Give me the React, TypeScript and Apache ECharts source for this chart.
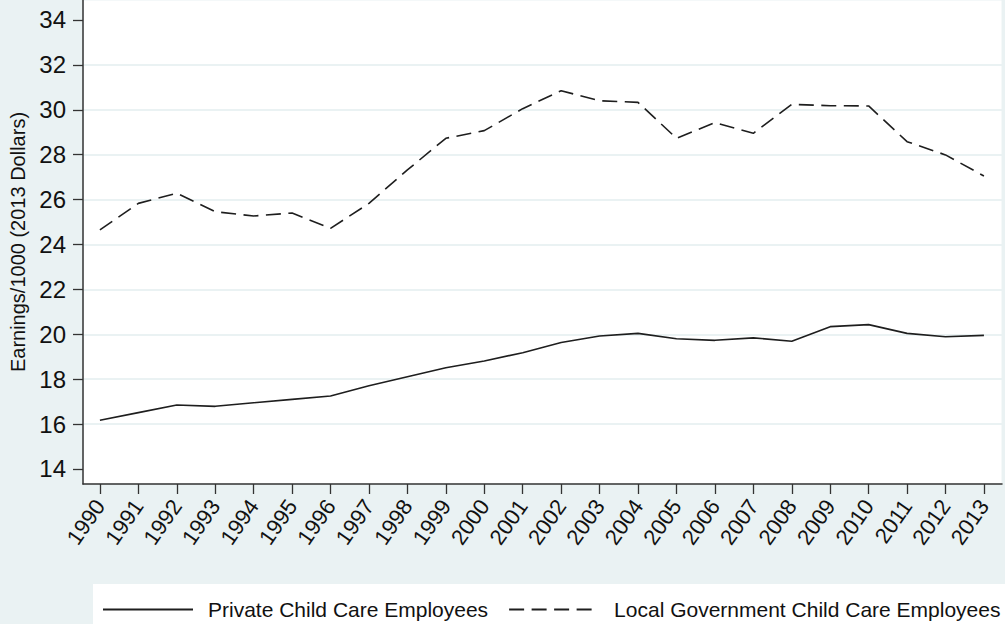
import React, { useEffect, useRef } from "react";
import * as echarts from "echarts";

const years = [1990, 1991, 1992, 1993, 1994, 1995, 1996, 1997, 1998, 1999, 2000, 2001, 2002, 2003, 2004, 2005, 2006, 2007, 2008, 2009, 2010, 2011, 2012, 2013];
const privateEarnings = [16.17, 16.51, 16.85, 16.79, 16.95, 17.1, 17.25, 17.71, 18.11, 18.51, 18.81, 19.18, 19.63, 19.92, 20.04, 19.8, 19.73, 19.84, 19.69, 20.34, 20.43, 20.04, 19.89, 19.95];
const localGovEarnings = [24.65, 25.83, 26.28, 25.46, 25.27, 25.4, 24.72, 25.83, 27.32, 28.73, 29.07, 30.05, 30.85, 30.4, 30.33, 28.73, 29.43, 28.95, 30.24, 30.18, 30.17, 28.58, 27.99, 27.05];
const yTickValues = [14, 16, 18, 20, 22, 24, 26, 28, 30, 32, 34];
const yGridValues = [16, 18, 20, 22, 24, 26, 28, 30, 32];
const seriesNames = ["Private Child Care Employees", "Local Government Child Care Employees"];
const yAxisTitle = "Earnings/1000 (2013 Dollars)";

const FONT = "'Liberation Sans', Arial, Helvetica, sans-serif";
const BG = "#eaf2f3";
const INK = "#1e1e1e";

export default function App() {
  const ref = useRef<HTMLDivElement>(null);
  useEffect(() => {
    document.body.style.margin = "0";
    if (!ref.current) return;
    const chart = echarts.init(ref.current, undefined, { renderer: "svg" });
    const yMin = 13.33;
    const yMax = 34.89;
    chart.setOption({
      animation: false,
      backgroundColor: BG,
      textStyle: { fontFamily: FONT },
      grid: {
        left: 83,
        right: 3,
        top: 0,
        bottom: 140,
        show: true,
        backgroundColor: "#ffffff",
        borderColor: BG,
        borderWidth: 1,
      },
      legend: {
        data: seriesNames,
        left: 93,
        top: 584,
        width: 1000,
        orient: "horizontal",
        padding: [15, 30, 15, 9],
        backgroundColor: "#ffffff",
        itemWidth: 90,
        itemHeight: 14,
        itemGap: 20,
        itemStyle: { opacity: 0, borderWidth: 0 },
        textStyle: { fontSize: 21, color: "#111", fontFamily: FONT, padding: [0, 0, 0, 10] },
      },
      xAxis: {
        type: "value",
        min: 1989.56,
        max: 2013.47,
        axisLine: { show: true, onZero: false, lineStyle: { color: "#333", width: 1.5 } },
        axisTick: { show: true, length: 10, customValues: years, lineStyle: { color: "#333", width: 1.3 } },
        axisLabel: {
          customValues: years,
          rotate: 55,
          margin: 18,
          fontSize: 22,
          color: "#111",
          fontFamily: FONT,
          formatter: (v: number) => String(v),
        },
        splitLine: { show: false },
      },
      yAxis: [
        {
          type: "value",
          min: yMin,
          max: yMax,
          name: yAxisTitle,
          nameLocation: "middle",
          nameGap: 54,
          nameRotate: 90,
          nameTextStyle: { fontSize: 20, color: "#111", fontFamily: FONT },
          axisLine: { show: true, onZero: false, lineStyle: { color: "#333", width: 1.5 } },
          axisTick: { show: true, length: 10, customValues: yTickValues, lineStyle: { color: "#333", width: 1.3 } },
          axisLabel: { customValues: yTickValues, margin: 17, fontSize: 24, color: "#111", fontFamily: FONT },
          splitLine: { show: false },
        },
        {
          type: "value",
          min: yMin,
          max: yMax,
          position: "left",
          axisLine: { show: false },
          axisTick: { show: false, customValues: yGridValues },
          axisLabel: { show: false, customValues: yGridValues },
          splitLine: { show: true, lineStyle: { color: BG, width: 2 } },
        },
      ],
      series: [
        {
          name: seriesNames[0],
          type: "line",
          yAxisIndex: 0,
          symbol: "none",
          data: years.map((y, i) => [y, privateEarnings[i]]),
          lineStyle: { color: INK, width: 1.6, type: "solid" },
          itemStyle: { color: INK },
        },
        {
          name: seriesNames[1],
          type: "line",
          yAxisIndex: 0,
          symbol: "none",
          data: years.map((y, i) => [y, localGovEarnings[i]]),
          lineStyle: { color: INK, width: 1.6, type: [15, 7.5] },
          itemStyle: { color: INK },
        },
      ],
    });
    return () => chart.dispose();
  }, []);
  return <div ref={ref} style={{ width: 1005, height: 624 }} />;
}
